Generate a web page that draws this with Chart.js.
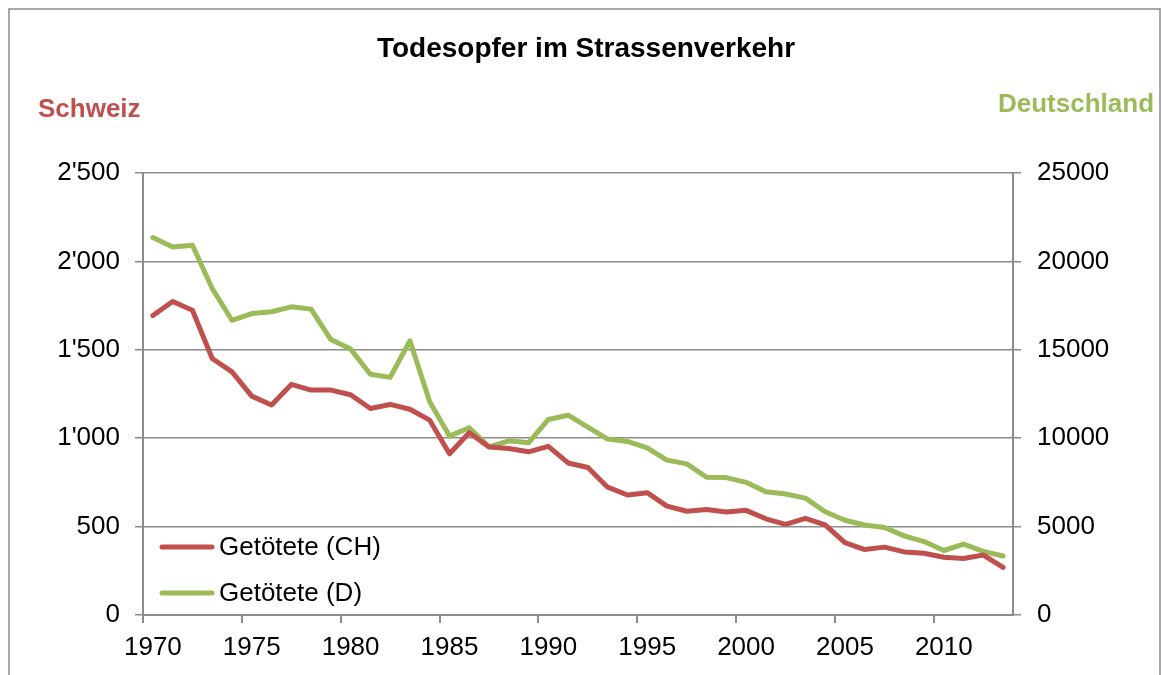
<!DOCTYPE html>
<html lang="de">
<head>
<meta charset="utf-8">
<title>Todesopfer im Strassenverkehr</title>
<script src="https://cdn.jsdelivr.net/npm/chart.js@4.4.1/dist/chart.umd.min.js"></script>
<style>
    html, body { margin: 0; padding: 0; background: #fff; }
    #chart { display: block; }
</style>
</head>
<body>
<canvas id="chart" width="1162" height="675"></canvas>
<script>
// --- データ ---
const years = ['1970', '1971', '1972', '1973', '1974', '1975', '1976', '1977', '1978', '1979',
    '1980', '1981', '1982', '1983', '1984', '1985', '1986', '1987', '1988', '1989',
    '1990', '1991', '1992', '1993', '1994', '1995', '1996', '1997', '1998', '1999',
    '2000', '2001', '2002', '2003', '2004', '2005', '2006', '2007', '2008', '2009',
    '2010', '2011', '2012', '2013'];

// Schweiz (linke Achse)
const deathsCH = [1694, 1773, 1724, 1451, 1375, 1238, 1188, 1304, 1272, 1272,
    1246, 1168, 1191, 1164, 1102, 912, 1031, 950, 942, 923,
    954, 860, 834, 723, 679, 692, 616, 587, 597, 583,
    592, 544, 513, 546, 510, 409, 370, 384, 357, 349,
    327, 320, 339, 269];

// Deutschland (rechte Achse)
const deathsD = [21350, 20820, 20910, 18470, 16670, 17050, 17150, 17430, 17300, 15580,
    15040, 13620, 13440, 15510, 12060, 10120, 10590, 9510, 9850, 9740,
    11060, 11300, 10631, 9949, 9814, 9454, 8758, 8549, 7792, 7772,
    7503, 6977, 6842, 6613, 5842, 5361, 5091, 4949, 4477, 4152,
    3648, 4009, 3600, 3339];

const xTickLabels = ['1970', '1975', '1980', '1985', '1990', '1995', '2000', '2005', '2010'];
const leftTickLabels = ['0', '500', "1'000", "1'500", "2'000", "2'500"];
const rightTickLabels = ['0', '5000', '10000', '15000', '20000', '25000'];

const chartTitle = 'Todesopfer im Strassenverkehr';
const leftAxisTitle = 'Schweiz';
const rightAxisTitle = 'Deutschland';
const seriesNames = ['Getötete (CH)', 'Getötete (D)'];

const RED = '#C0504D';
const GREEN = '#9BBB59';
const GRID = '#8c8c8c';
const FONT = '"Liberation Sans", Arial, sans-serif';

// タイトル・軸見出し・凡例・外枠を描くプラグイン
const decorPlugin = {
    id: 'decor',
    afterDraw(chart) {
        const ctx = chart.ctx;
        ctx.save();

        // 外枠
        ctx.strokeStyle = GRID;
        ctx.lineWidth = 1.5;
        ctx.strokeRect(9, 9, 1151, 700);

        // タイトル
        ctx.fillStyle = '#000';
        ctx.font = 'bold 28px ' + FONT;
        ctx.textAlign = 'center';
        ctx.textBaseline = 'alphabetic';
        ctx.fillText(chartTitle, 586, 57);

        // 軸見出し
        ctx.font = 'bold 26px ' + FONT;
        ctx.textAlign = 'left';
        ctx.fillStyle = RED;
        ctx.fillText(leftAxisTitle, 38, 117);
        ctx.fillStyle = GREEN;
        ctx.fillText(rightAxisTitle, 998, 112);

        // 凡例 (プロット内の左下)
        const rows = [547, 593];
        chart.data.datasets.forEach((ds, i) => {
            const y = rows[i];
            ctx.strokeStyle = ds.borderColor;
            ctx.lineWidth = 5;
            ctx.lineCap = 'round';
            ctx.beginPath();
            ctx.moveTo(162, y);
            ctx.lineTo(212, y);
            ctx.stroke();
            ctx.fillStyle = '#000';
            ctx.font = '26px ' + FONT;
            ctx.textBaseline = 'middle';
            ctx.fillText(ds.label, 219, y + 1);
        });

        ctx.restore();
    }
};

const ctx = document.getElementById('chart').getContext('2d');

const chart = new Chart(ctx, {
    type: 'line',
    data: {
        labels: years,
        datasets: [
            {
                label: seriesNames[0],
                data: deathsCH,
                yAxisID: 'y',
                borderColor: RED,
                backgroundColor: RED,
                borderWidth: 5,
                pointRadius: 0,
                tension: 0,
                borderJoinStyle: 'round',
                borderCapStyle: 'round',
                order: 1
            },
            {
                label: seriesNames[1],
                data: deathsD,
                yAxisID: 'y2',
                borderColor: GREEN,
                backgroundColor: GREEN,
                borderWidth: 5,
                pointRadius: 0,
                tension: 0,
                borderJoinStyle: 'round',
                borderCapStyle: 'round',
                order: 2
            }
        ]
    },
    options: {
        responsive: false,
        animation: false,
        devicePixelRatio: 1,
        layout: {
            padding: { top: 173, left: 0, right: 0, bottom: 0 }
        },
        plugins: {
            legend: { display: false },
            title: { display: false },
            tooltip: { enabled: false }
        },
        scales: {
            x: {
                type: 'category',
                offset: true,
                afterFit: s => { s.height = 60; },
                border: { display: true, color: GRID, width: 2 },
                grid: {
                    offset: true,
                    drawOnChartArea: false,
                    drawTicks: true,
                    tickLength: 8,
                    lineWidth: 2,
                    color: c => (c.index !== undefined && xTickLabels.includes(years[c.index])) ? GRID : 'rgba(0,0,0,0)'
                },
                ticks: {
                    autoSkip: false,
                    maxRotation: 0,
                    padding: 9,
                    color: '#000',
                    font: { family: FONT, size: 26 },
                    callback: (v, i) => xTickLabels.includes(years[i]) ? years[i] : ''
                }
            },
            y: {
                position: 'left',
                min: 0,
                max: 2500,
                afterFit: s => { s.width = 143; },
                border: { display: true, color: GRID, width: 2 },
                grid: {
                    color: GRID,
                    lineWidth: 1.5,
                    tickLength: 8
                },
                ticks: {
                    stepSize: 500,
                    padding: 15,
                    color: '#000',
                    font: { family: FONT, size: 26 },
                    callback: (v, i) => leftTickLabels[i]
                }
            },
            y2: {
                position: 'right',
                min: 0,
                max: 25000,
                afterFit: s => { s.width = 149; },
                border: { display: true, color: GRID, width: 2 },
                grid: {
                    drawOnChartArea: false,
                    color: GRID,
                    lineWidth: 1.5,
                    tickLength: 8
                },
                ticks: {
                    stepSize: 5000,
                    padding: 16,
                    color: '#000',
                    font: { family: FONT, size: 26 },
                    callback: (v, i) => rightTickLabels[i]
                }
            }
        }
    },
    plugins: [decorPlugin]
});
</script>
</body>
</html>
